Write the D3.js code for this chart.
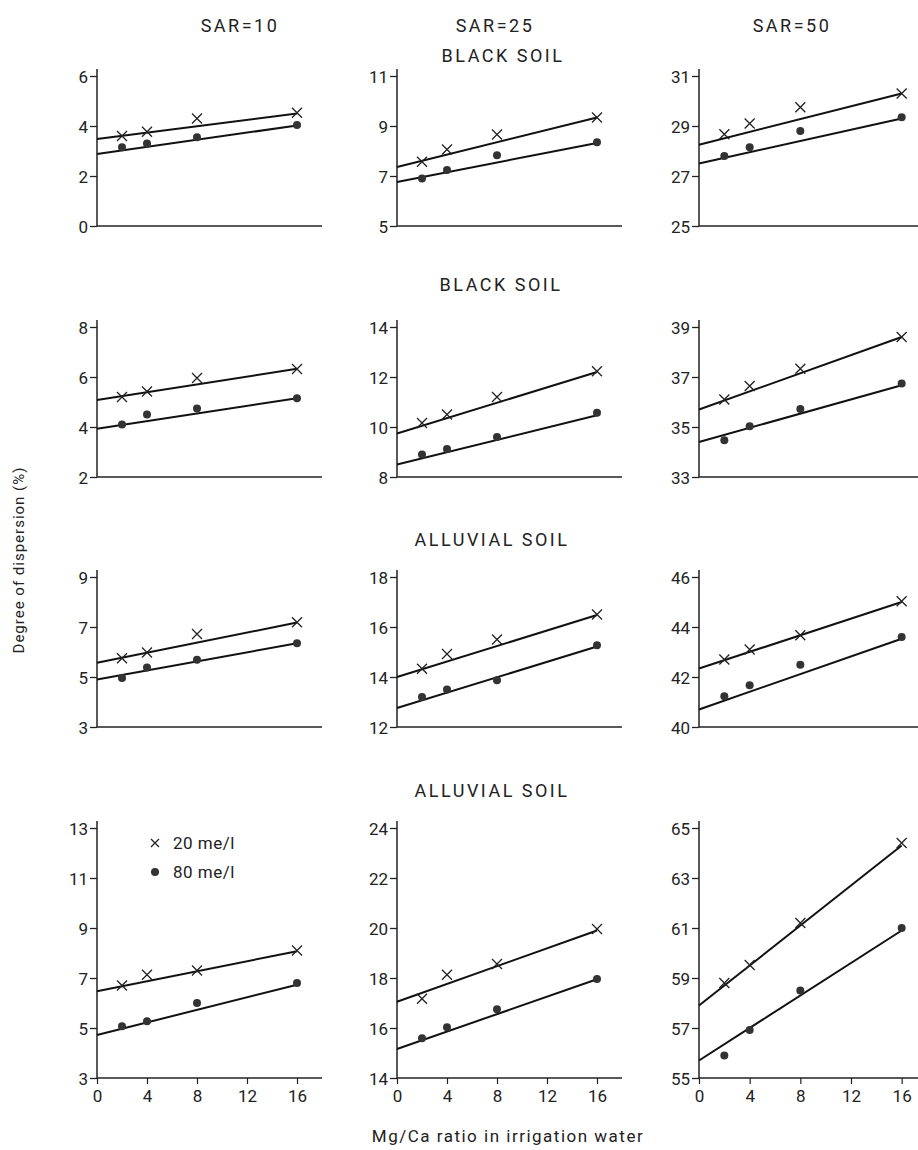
<!DOCTYPE html>
<html><head><meta charset="utf-8">
<script src="https://cdn.jsdelivr.net/npm/d3@7"></script>
<style>
body{margin:0;background:#fff;}
text{font-family:Roboto,"DejaVu Sans",sans-serif;fill:#222;}
</style></head>
<body><svg id="c" width="918" height="1150"></svg>
<script>
// ---- data ----
const columnTitles = ["SAR=10", "SAR=25", "SAR=50"];
const rowTitles = ["BLACK SOIL", "BLACK SOIL", "ALLUVIAL SOIL", "ALLUVIAL SOIL"];
const seriesNames = ["20 me/l", "80 me/l"];
const ratios = [2, 4, 8, 16];
const xTicks = [0, 4, 8, 12, 16];
// y tick values per panel (row-major: row1 col1..3, row2 ...)
const yTicks = [
  [0, 2, 4, 6], [5, 7, 9, 11], [25, 27, 29, 31],
  [2, 4, 6, 8], [8, 10, 12, 14], [33, 35, 37, 39],
  [3, 5, 7, 9], [12, 14, 16, 18], [40, 42, 44, 46],
  [3, 5, 7, 9, 11, 13], [14, 16, 18, 20, 22, 24], [55, 57, 59, 61, 63, 65]
];
// degree of dispersion, 20 me/l (x markers)
const disp20 = [
  [3.6, 3.77, 4.3, 4.53], [7.57, 8.06, 8.66, 9.34], [28.67, 29.1, 29.75, 30.3],
  [5.2, 5.42, 5.96, 6.32], [10.16, 10.5, 11.2, 12.23], [36.1, 36.64, 37.33, 38.6],
  [5.75, 5.98, 6.72, 7.19], [14.33, 14.92, 15.5, 16.5], [42.7, 43.1, 43.67, 45.03],
  [6.7, 7.13, 7.3, 8.1], [17.17, 18.13, 18.56, 19.96], [58.8, 59.52, 61.2, 64.4]
];
// degree of dispersion, 80 me/l (dots)
const disp80 = [
  [3.15, 3.3, 3.55, 4.04], [6.9, 7.24, 7.83, 8.35], [27.8, 28.15, 28.8, 29.35],
  [4.1, 4.5, 4.74, 5.15], [8.9, 9.12, 9.6, 10.57], [34.47, 35.03, 35.72, 36.74],
  [4.96, 5.38, 5.69, 6.35], [13.2, 13.5, 13.87, 15.27], [41.23, 41.67, 42.49, 43.6],
  [5.07, 5.27, 6.0, 6.8], [15.59, 16.03, 16.75, 17.96], [55.9, 56.92, 58.5, 61.0]
];
// fitted lines: value at ratio 0 and ratio 16
const fitRange = [0, 16];
const fit20 = [
  [3.48, 4.5], [7.36, 9.34], [28.25, 30.3],
  [5.08, 6.33], [9.74, 12.2], [35.7, 38.6],
  [5.57, 7.18], [14.0, 16.48], [42.34, 45.0],
  [6.47, 8.07], [17.05, 19.9], [57.9, 64.3]
];
const fit80 = [
  [2.88, 4.02], [6.76, 8.32], [27.5, 29.3],
  [3.93, 5.15], [8.5, 10.47], [34.4, 36.67],
  [4.9, 6.35], [12.76, 15.22], [40.7, 43.53],
  [4.72, 6.73], [15.16, 17.95], [55.7, 60.9]
];

// ---- layout ----
const svg = d3.select("#c");
const colX = [97, 397, 699];
const colW = [225, 225, 228];   // pixels for ratio 0..18
const rowTop = [76, 327, 577, 828];
const pxPerUnit = 25;

const lineGen = d3.line();

for (let r = 0; r < 4; r++) {
  for (let c = 0; c < 3; c++) {
    const i = r * 3 + c;
    const ticks = yTicks[i];
    const yMin = d3.min(ticks), yMax = d3.max(ticks);
    const h = (yMax - yMin) * pxPerUnit / 2 * 2;
    const x = d3.scaleLinear().domain([0, 18]).range([colX[c], colX[c] + colW[c]]);
    const y = d3.scaleLinear().domain([yMin, yMax]).range([rowTop[r] + h * 1, rowTop[r]]);
    const g = svg.append("g");

    // y axis
    const ya = g.append("g").attr("transform", `translate(${colX[c]},0)`)
      .call(d3.axisLeft(y).tickValues(ticks).tickSize(7).tickPadding(2).tickFormat(d3.format("d")));
    ya.select(".domain").remove();
    ya.selectAll(".tick line").attr("stroke", "#222").attr("stroke-width", 1.3);
    ya.selectAll(".tick text").style("font-size", "17px").attr("fill", "#222").attr("dy", "0.36em");
    g.append("line").attr("x1", colX[c]).attr("x2", colX[c])
      .attr("y1", y(yMax) - 7).attr("y2", y(yMin)).attr("stroke", "#222").attr("stroke-width", 1.5);

    // x axis
    if (r === 3) {
      const xa = g.append("g").attr("transform", `translate(0,${y(yMin)})`)
        .call(d3.axisBottom(x).tickValues(xTicks).tickSize(6).tickPadding(6));
      xa.select(".domain").remove();
      xa.selectAll(".tick line").attr("stroke", "#222").attr("stroke-width", 1.2);
      xa.selectAll(".tick text").style("font-size", "17px").attr("fill", "#222");
    }
    g.append("line").attr("x1", colX[c]).attr("x2", x(18))
      .attr("y1", y(yMin)).attr("y2", y(yMin)).attr("stroke", "#222").attr("stroke-width", 1.5);

    // fitted lines
    [fit20[i], fit80[i]].forEach(f => {
      g.append("path").attr("d", lineGen([[x(fitRange[0]), y(f[0])], [x(fitRange[1]), y(f[1])]]))
        .attr("stroke", "#111").attr("stroke-width", 2).attr("fill", "none");
    });

    // x markers
    disp20[i].forEach((v, k) => {
      const px = x(ratios[k]), py = y(v), s = 5;
      g.append("path").attr("d", `M${px - s},${py - s}L${px + s},${py + s}M${px - s},${py + s}L${px + s},${py - s}`)
        .attr("stroke", "#222").attr("stroke-width", 1.3).attr("fill", "none");
    });
    // dots
    disp80[i].forEach((v, k) => {
      g.append("circle").attr("cx", x(ratios[k])).attr("cy", y(v)).attr("r", 4).attr("fill", "#333");
    });
  }
}

// column titles
const titleX = [240, 495, 792];
columnTitles.forEach((t, c) => {
  svg.append("text").attr("x", titleX[c]).attr("y", 32).attr("text-anchor", "middle")
    .style("font-size", "18px").style("letter-spacing", "2.5px").text(t);
});
// row titles
const rowTitleY = [62, 291, 546, 797];
const rowTitleX = [503, 501, 492, 492];
rowTitles.forEach((t, r) => {
  svg.append("text").attr("x", rowTitleX[r]).attr("y", rowTitleY[r]).attr("text-anchor", "middle")
    .style("font-size", "18px").style("letter-spacing", "2.5px").text(t);
});

// legend (bottom-left panel)
const legX = 155, legY = [843, 872];
svg.append("path").attr("d", `M${legX - 4},${legY[0] - 4}L${legX + 4},${legY[0] + 4}M${legX - 4},${legY[0] + 4}L${legX + 4},${legY[0] - 4}`)
  .attr("stroke", "#222").attr("stroke-width", 1.3);
svg.append("circle").attr("cx", legX).attr("cy", legY[1]).attr("r", 4).attr("fill", "#333");
seriesNames.forEach((s, k) => {
  svg.append("text").attr("x", legX + 18).attr("y", legY[k]).attr("dy", "0.36em")
    .style("font-size", "17px").style("letter-spacing", "0.5px").text(s);
});

// axis titles
svg.append("text").attr("transform", "translate(24,560) rotate(-90)").attr("text-anchor", "middle")
  .style("font-size", "15px").style("letter-spacing", "1px").text("Degree of dispersion (%)");
svg.append("text").attr("x", 508).attr("y", 1142).attr("text-anchor", "middle")
  .style("font-size", "17px").style("letter-spacing", "1.5px").text("Mg/Ca ratio in irrigation water");
</script></body></html>
